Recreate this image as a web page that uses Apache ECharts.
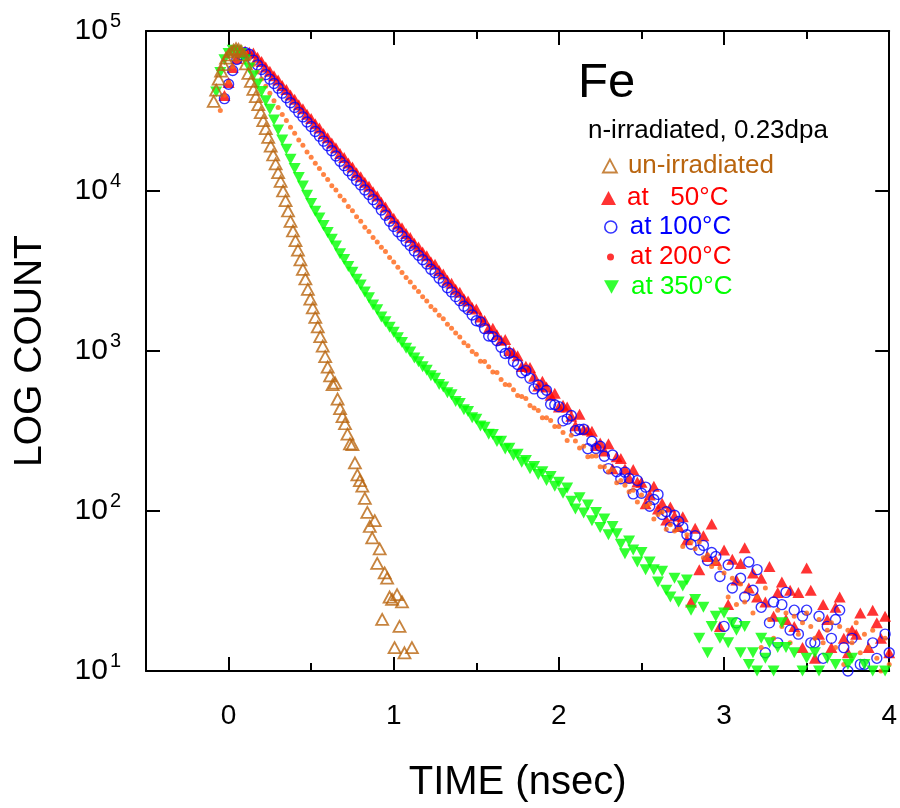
<!DOCTYPE html>
<html><head><meta charset="utf-8">
<script src="https://cdn.jsdelivr.net/npm/echarts@6/dist/echarts.min.js"></script>
<style>html,body{margin:0;padding:0;background:#fff}#chart{width:900px;height:808px}</style>
</head><body><div id="chart"></div>
<script>
// ---- time axis of the dense spectra (ns) ----
const time = [
 -0.075, -0.05, -0.025,
 0, 0.025, 0.05, 0.075, 0.1, 0.125, 0.15, 0.175, 0.2, 0.225,
 0.25, 0.275, 0.3, 0.325, 0.35, 0.375, 0.4, 0.425, 0.45, 0.475,
 0.5, 0.525, 0.55, 0.575, 0.6, 0.625, 0.65, 0.675, 0.7, 0.725,
 0.75, 0.775, 0.8, 0.825, 0.85, 0.875, 0.9, 0.925, 0.95, 0.975,
 1, 1.025, 1.05, 1.075, 1.1, 1.125, 1.15, 1.175, 1.2, 1.225,
 1.25, 1.275, 1.3, 1.325, 1.35, 1.375, 1.4, 1.425, 1.45, 1.475,
 1.5, 1.525, 1.55, 1.575, 1.6, 1.625, 1.65, 1.675, 1.7, 1.725,
 1.75, 1.775, 1.8, 1.825, 1.85, 1.875, 1.9, 1.925, 1.95, 1.975,
 2, 2.025, 2.05, 2.075, 2.1, 2.125, 2.15, 2.175, 2.2, 2.225,
 2.25, 2.275, 2.3, 2.325, 2.35, 2.375, 2.4, 2.425, 2.45, 2.475,
 2.5, 2.525, 2.55, 2.575, 2.6, 2.625, 2.65, 2.675, 2.7, 2.725,
 2.75, 2.775, 2.8, 2.825, 2.85, 2.875, 2.9, 2.925, 2.95, 2.975,
 3, 3.025, 3.05, 3.075, 3.1, 3.125, 3.15, 3.175, 3.2, 3.225,
 3.25, 3.275, 3.3, 3.325, 3.35, 3.375, 3.4, 3.425, 3.45, 3.475,
 3.5, 3.525, 3.55, 3.575, 3.6, 3.625, 3.65, 3.675, 3.7, 3.725,
 3.75, 3.775, 3.8, 3.825, 3.85, 3.875, 3.9, 3.925, 3.95, 3.975,
 4
];

// ---- irradiated at 50°C ----
const count50 = [
 null, null, 39500,
 47600, 59200, 67400, 73500, 74700, 73600, 72900, 68430, 64380, 59590,
 56060, 52520, 49400, 45660, 43060, 39830, 37440, 34630, 32660, 30160,
 28390, 26310, 24750, 22880, 21530, 19970, 18620, 17160, 16220, 14980,
 14140, 13000, 12270, 11340, 10710, 9880, 9310, 8510, 7950, 7230,
 6750, 6230, 5890, 5420, 5130, 4720, 4470, 4150, 3940, 3610,
 3480, 3180, 3030, 2770, 2650, 2430, 2330, 2120, 2050, 1870,
 1829, 1629, 1552, 1386, 1387, 1265, 1169, 1178, 1006, 977,
 933, 800, 802, 790, 696, 604, 648, 596, 529, 545,
 446, 458, 447, 391, 341, 402, 323, 321, 315, 257,
 266, 237, 263, 184, 218, 213, 183, 161, 182, 152,
 151, 111, 126, 143, 103, 112, 88, 106, 93, 80,
 92, 66, 27, 78, 43, 70, 52, 83, 49, 19,
 57, 26, 50, 37, 47, 59, 33, 41, 29, 38,
 27, 45, 22, 31, 36, 21, 32, 19, 31, 14,
 44, 32, 12, 17, 26, 21, 14, 25, 29, 16,
 13, 18, 17, 23, 9, 14, 24, 20, 16, 22,
 13
];

// ---- irradiated at 100°C ----
const count100 = [
 null, null, 37800,
 46500, 56600, 66300, 71400, 73400, 71500, 65760, 61440, 57410, 53380,
 50020, 46940, 43970, 40900, 38300, 35620, 33310, 31010, 29040, 27020,
 25300, 23520, 22030, 20490, 19190, 17840, 16540, 15350, 14400, 13370,
 12540, 11640, 10920, 10140, 9514, 8832, 8294, 7603, 7056, 6470,
 6010, 5568, 5232, 4848, 4560, 4224, 3970, 3720, 3499, 3240,
 3084, 2853, 2687, 2484, 2342, 2188, 2064, 1905, 1820, 1677,
 1547, 1519, 1380, 1240, 1227, 1159, 1055, 964, 969, 861,
 824, 732, 754, 676, 580, 613, 541, 568, 465, 461,
 449, 366, 375, 395, 318, 323, 324, 245, 273, 246,
 254, 220, 184, 224, 176, 159, 175, 160, 128, 155,
 129, 141, 107, 118, 127, 95, 99, 79, 94, 86,
 79, 71, 62, 70, 57, 61, 49, 55, 52, 39,
 19, 46, 33, 20, 38, 29, 48, 32, 43, 25,
 13, 20, 27, 15, 26, 31, 18, 24, 17, 22,
 24, 15, 15, 22, 12, 19, 16, 21, 24, 14,
 10, 16, 8, 11, 11, 9, 15, 12, 8, 17,
 13
];

// ---- irradiated at 200°C ----
const count200 = [
 null, 31800, 39600,
 48000, 60100, 70900, 74000, 72600, 67500, 61800, 55500, 50200, 45100,
 40800, 36700, 33200, 30100, 27600, 25050, 22960, 20850, 19320, 17540,
 16260, 14920, 13840, 12700, 11790, 10800, 10150, 9300, 8740, 8010,
 7520, 6900, 6475, 5940, 5575, 5115, 4800, 4455, 4182, 3835,
 3600, 3340, 3100, 2875, 2700, 2505, 2352, 2180, 2050, 1898,
 1807, 1672, 1592, 1472, 1387, 1296, 1223, 1128, 1080, 993,
 953, 864, 860, 796, 739, 735, 663, 617, 614, 572,
 528, 519, 505, 457, 441, 425, 382, 383, 368, 337,
 337, 310, 276, 298, 274, 248, 254, 218, 220, 221,
 189, 189, 176, 181, 150, 155, 145, 132, 135, 114,
 126, 107, 111, 89, 95, 99, 77, 82, 75, 77,
 60, 71, 64, 58, 64, 51, 53, 45, 48, 44,
 41, 29, 38, 26, 35, 27, 32, 23, 29, 14,
 33, 21, 16, 24, 19, 23, 15, 22, 17, 20,
 23, 19, 16, 21, 15, 18, 20, 14, 19, 11,
 18, 15, 20, 13, 17, 14, 18, 12, 10, 16,
 11
];

// ---- irradiated at 350°C ----
const count350 = [
 41500, 55100, 66200,
 72300, 75700, 75100, 72300, 66200, 58700, 52600, 46600, 41800, 36600,
 32450, 27800, 24050, 20850, 18240, 15820, 13830, 12130, 10750, 9420,
 8340, 7480, 6780, 6080, 5510, 4995, 4535, 4060, 3730, 3375,
 3102, 2806, 2582, 2334, 2148, 1941, 1808, 1633, 1522, 1405,
 1310, 1209, 1129, 1040, 984, 905, 858, 797, 757, 701,
 675, 617, 596, 549, 532, 483, 469, 430, 419, 382,
 374, 340, 334, 302, 301, 272, 273, 244, 247, 222,
 226, 202, 207, 184, 190, 169, 176, 155, 164, 143,
 151, 129, 139, 115, 103, 121, 97, 109, 87, 98,
 79, 89, 71, 80, 72, 62, 54, 65, 57, 48,
 55, 43, 48, 43, 36, 42, 32, 29, 38, 27,
 34, 37, 24, 28, 16, 25, 13, 19, 22, 16,
 23, 15, 20, 18, 13, 19, 11, 13, 10, 16,
 12, 15, 10, 14, 20, 14, 9, 13, 8, 10,
 12, 9, 13, 10, 8, 12, 9, 11, 8, 9,
 11, 12, 7, 9, 11, 8, 10, 9, 7, 10,
 8
];

// ---- un-irradiated reference (own time channels) ----
const brownTime = [
 -0.09, -0.075, -0.06, -0.045, -0.03, -0.015, 0, 0.015, 0.03, 0.045,
 0.06, 0.075, 0.09, 0.105, 0.12, 0.135, 0.15, 0.165, 0.18, 0.195,
 0.21, 0.225, 0.24, 0.255, 0.27, 0.285, 0.3, 0.315, 0.33, 0.345,
 0.36, 0.375, 0.39, 0.405, 0.42, 0.435, 0.45, 0.465, 0.48, 0.495,
 0.51, 0.525, 0.54, 0.555, 0.57, 0.585, 0.6, 0.615, 0.63, 0.645,
 0.66, 0.675, 0.69, 0.705, 0.72, 0.735, 0.75, 0.765, 0.78, 0.795,
 0.81, 0.825, 0.84, 0.855, 0.87, 0.885, 0.9, 0.915, 0.93, 0.945,
 0.96, 0.975, 0.99, 1.005, 1.02, 1.035, 1.05, 1.065, 1.08, 1.095,
 1.11
];
const countUnirr = [
 36300, 42660, 50100, 56200, 61700, 67600, 70800, 74100, 75900, 77600,
 76740, 74990, 70790, 62370, 54330, 48420, 43150, 38900, 34670, 30900,
 27540, 24550, 21630, 19050, 16790, 14790, 13030, 11480, 10000, 8710,
 7499, 6457, 5623, 4898, 4266, 3715, 3236, 2818, 2427, 2113,
 1862, 1622, 1413, 1230, 1072, 923, 794, 700, 617, 631,
 501, 437, 389, 351, 302, 263, 260, 200, 168, 155,
 143, 120, 98, 80, 68, 87, 47, 58, 21, 41,
 38, 29, 28, 14, 30, 19, 27, 13, null, null,
 14
];

const xMajorTicks = [0, 1, 2, 3, 4];
const xMinorTicks = [0.5, 1.5, 2.5, 3.5];
const seriesNames = ['un-irradiated', 'at   50°C', 'at 100°C', 'at 200°C', 'at 350°C'];

const FONT = '"Liberation Sans", Arial, Helvetica, sans-serif';
const BROWN = '#b9650f', RED = '#ff0000', BLUE = '#0000ff', ORANGE = '#ff6414', GREEN = '#00ff00';

function pairs(ts, vs) {
  const out = [];
  for (let i = 0; i < ts.length; i++) if (vs[i] != null) out.push([ts[i], vs[i]]);
  return out;
}

const chart = echarts.init(document.getElementById('chart'), null, {renderer: 'canvas'});

const axisLineStyle = {color: '#000', width: 2};
function xAx(position, ticks, len, withLine, withLabel) {
  const a = {
    type: 'value', min: -0.5, max: 4, position: position,
    axisLine: {show: withLine, onZero: false, lineStyle: axisLineStyle},
    axisTick: {show: true, inside: true, length: len, customValues: ticks, lineStyle: {color: '#000', width: 2}},
    axisLabel: {show: withLabel},
    splitLine: {show: false}
  };
  if (withLabel) {
    a.axisLabel = {show: true, customValues: xMajorTicks, fontSize: 28, fontFamily: FONT, color: '#000', margin: 31};
    a.name = 'TIME (nsec)';
    a.nameLocation = 'middle';
    a.nameGap = 92;
    a.nameTextStyle = {fontSize: 40, fontFamily: FONT, color: '#000'};
  }
  return a;
}

// legend rows: icon box width w, height h, text padding pad
const legendDefs = [
  {name: seriesNames[0], color: BROWN, top: 152, left: 602, w: 14, h: 13, pad: 6, style: {color: 'rgba(0,0,0,0)', borderColor: BROWN, borderWidth: 1.8}},
  {name: seriesNames[1], color: RED, top: 184, left: 601, w: 15, h: 14, pad: 6, style: {color: RED}},
  {name: seriesNames[2], color: BLUE, top: 213, left: 604, w: 12, h: 12, pad: 8, style: {color: 'rgba(0,0,0,0)', borderColor: BLUE, borderWidth: 1.6}},
  {name: seriesNames[3], color: RED, top: 243, left: 607, w: 7, h: 7, pad: 11, style: {color: RED}},
  {name: seriesNames[4], color: GREEN, top: 273, left: 604, w: 15, h: 14, pad: 7, style: {color: GREEN}}
];

const option = {
  animation: false,
  backgroundColor: '#fff',
  textStyle: {fontFamily: FONT},
  title: [
    {text: 'Fe', left: 578, top: 59, padding: 0, textStyle: {fontSize: 49, fontWeight: 'normal', color: '#000', fontFamily: FONT}},
    {text: 'n-irradiated, 0.23dpa', left: 588, top: 118, padding: 0, textStyle: {fontSize: 26, fontWeight: 'normal', color: '#000', fontFamily: FONT}}
  ],
  legend: legendDefs.map(d => ({
    orient: 'vertical', left: d.left, top: d.top, padding: 0,
    itemWidth: d.w, itemHeight: d.h, selectedMode: false,
    itemStyle: d.style,
    textStyle: {color: d.color, fontSize: 26, fontFamily: FONT, lineHeight: 28, padding: [0, 0, 0, d.pad]},
    data: [{name: d.name}]
  })),
  grid: {left: 146, right: 9, top: 31, bottom: 137, containLabel: false},
  xAxis: [
    xAx('bottom', xMajorTicks, 14, true, true),
    xAx('bottom', xMinorTicks, 8, false, false),
    xAx('top', xMajorTicks, 14, true, false),
    xAx('top', xMinorTicks, 8, false, false)
  ],
  yAxis: [
    {
      type: 'log', logBase: 10, min: 10, max: 100000, position: 'left',
      axisLine: {show: true, onZero: false, lineStyle: axisLineStyle},
      axisTick: {show: true, inside: true, length: 14, lineStyle: {color: '#000', width: 2}},
      minorTick: {show: false}, splitLine: {show: false},
      axisLabel: {
        margin: 25,
        formatter: v => '{b|10}{s|' + Math.round(Math.log10(v)) + '}',
        rich: {
          b: {fontSize: 30, fontFamily: FONT, color: '#000', lineHeight: 40},
          s: {fontSize: 20, fontFamily: FONT, color: '#000', lineHeight: 16, verticalAlign: 'top', padding: [0, 0, 0, 2]}
        }
      },
      name: 'LOG COUNT', nameLocation: 'middle', nameGap: 96,
      nameTextStyle: {fontSize: 39, fontFamily: FONT, color: '#000'}
    },
    {
      type: 'log', logBase: 10, min: 10, max: 100000, position: 'right',
      axisLine: {show: true, onZero: false, lineStyle: axisLineStyle},
      axisTick: {show: true, inside: true, length: 14, lineStyle: {color: '#000', width: 2}},
      axisLabel: {show: false}, splitLine: {show: false}
    }
  ],
  series: [
    {name: seriesNames[1], type: 'scatter', data: pairs(time, count50), symbol: 'triangle', symbolSize: [12, 11],
     itemStyle: {color: RED}, emphasis: {disabled: true}, silent: true},
    {name: seriesNames[2], type: 'scatter', data: pairs(time, count100), symbol: 'circle', symbolSize: 10,
     itemStyle: {color: 'rgba(0,0,0,0)', borderColor: BLUE, borderWidth: 1.4}, emphasis: {disabled: true}, silent: true},
    {name: seriesNames[3], type: 'scatter', data: pairs(time, count200), symbol: 'circle', symbolSize: 5,
     itemStyle: {color: ORANGE}, emphasis: {disabled: true}, silent: true},
    {name: seriesNames[4], type: 'scatter', data: pairs(time, count350), symbol: 'path://M0,0L10,0L5,9Z', symbolSize: [12, 11],
     itemStyle: {color: GREEN}, emphasis: {disabled: true}, silent: true},
    {name: seriesNames[0], type: 'scatter', data: pairs(brownTime, countUnirr), symbol: 'triangle', symbolSize: [12, 11],
     itemStyle: {color: 'rgba(0,0,0,0)', borderColor: BROWN, borderWidth: 1.8}, emphasis: {disabled: true}, silent: true}
  ]
};
chart.setOption(option);
</script>
</body></html>
